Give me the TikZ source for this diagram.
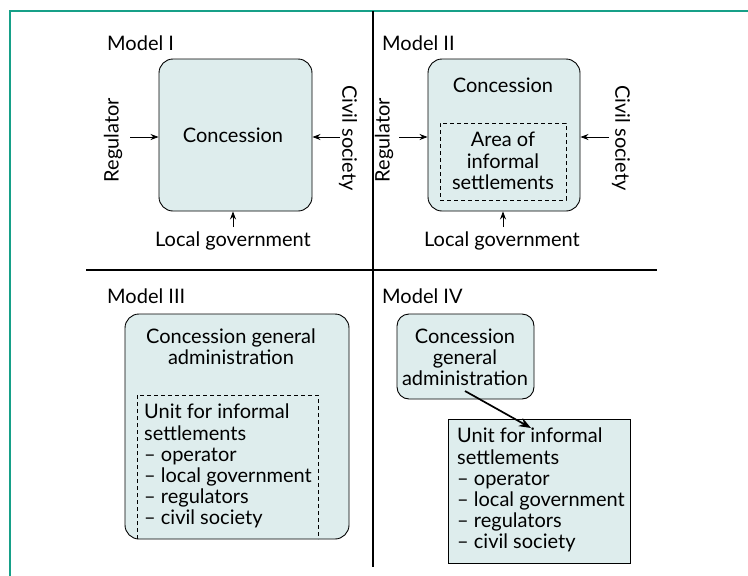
\documentclass[tikz,border=0pt]{standalone}
\usepackage{fontspec}
\setmainfont{Lato}
\usetikzlibrary{arrows.meta}
\definecolor{boxfill}{RGB}{222,237,237}
\definecolor{frameteal}{RGB}{22,160,136}
\begin{document}
\begin{tikzpicture}[x=1pt,y=-1pt,
  lbl/.style={font=\fontsize{20}{21.2}\selectfont, inner sep=0pt},
  txt/.style={font=\fontsize{20}{21.2}\selectfont, inner sep=0pt, align=center},
  rbox/.style={draw, line width=0.9pt, fill=boxfill, rounded corners=14pt},
  sbox/.style={draw, line width=0.9pt, fill=boxfill},
  dbox/.style={draw, line width=0.8pt, dashed, dash pattern=on 4pt off 3pt},
  inarrow/.style={-{Stealth[length=8pt,width=6pt]}, line width=0.8pt},
  bigarrow/.style={-{Stealth[length=12pt,width=9pt]}, line width=1.7pt},
  divider/.style={line width=1.2pt}
]
\useasboundingbox (0,0) rectangle (748,576);
\fill[white] (0,0) rectangle (748,576);
% outer frame (teal)
\draw[frameteal, line width=1.2pt] (10,576) -- (10,11) -- (748,11);
% dividers
\draw[divider] (373,11) -- (373,567);
\draw[divider] (86,270) -- (657,270);

% ---------- Model I ----------
\node[lbl, anchor=west] (m1) at (107,43) {Model I};
\node[rbox, minimum width=153pt, minimum height=152pt] (c1) at (235.5,135) {};
\node[txt] (c1t) at (233,135) {Concession};
\node[lbl, rotate=90] (reg1) at (113,140) {Regulator};
\node[lbl, rotate=-90] (civ1) at (348,138) {Civil society};
\node[lbl] (lg1) at (233,241) {Local government};
\coordinate (reg1a) at (130,137);
\coordinate (civ1a) at (340,137);
\coordinate (lg1a) at (233,227);
\draw[inarrow] (reg1a) -- (c1.west |- reg1a);
\draw[inarrow] (civ1a) -- (c1.east |- civ1a);
\draw[inarrow] (lg1a) -- (lg1a |- c1.south);

% ---------- Model II ----------
\node[lbl, anchor=west] (m2) at (382,43) {Model II};
\node[rbox, minimum width=152pt, minimum height=152pt] (c2) at (504,135) {};
\node[txt] (c2t) at (503,85) {Concession};
\node[dbox, minimum width=126pt, minimum height=77pt] (a2) at (503,161.5) {};
\node[txt] (a2t) at (503,161) {Area of\\informal\\settlements};
\node[lbl, rotate=90] (reg2) at (384,140) {Regulator};
\node[lbl, rotate=-90] (civ2) at (621,138) {Civil society};
\node[lbl] (lg2) at (502,241) {Local government};
\coordinate (reg2a) at (399,137);
\coordinate (civ2a) at (609,137);
\coordinate (lg2a) at (503,227);
\draw[inarrow] (reg2a) -- (c2.west |- reg2a);
\draw[inarrow] (civ2a) -- (c2.east |- civ2a);
\draw[inarrow] (lg2a) -- (lg2a |- c2.south);

% ---------- Model III ----------
\node[lbl, anchor=west] (m3) at (107,296) {Model III};
\node[rbox, minimum width=224pt, minimum height=225pt] (c3) at (237,426.5) {};
\node[txt] (c3t) at (231,347) {Concession general\\administration};
\draw[dbox] (137,539) -- (137,395) -- (318,395) -- (318,539);
\node[txt, align=left, anchor=north west] (u3) at (144,404)
  {Unit for informal\\settlements\\– operator\\– local government\\– regulators\\– civil society};

% ---------- Model IV ----------
\node[lbl, anchor=west] (m4) at (382,296) {Model IV};
\node[rbox, minimum width=137pt, minimum height=85pt, rounded corners=12pt] (c4) at (465.5,356.5) {};
\node[txt] (c4t) at (465,357) {Concession\\general\\administration};
\node[sbox, minimum width=182pt, minimum height=144pt] (u4) at (539,491) {};
\node[txt, align=left, anchor=north west] (u4t) at (457,428)
  {Unit for informal\\settlements\\– operator\\– local government\\– regulators\\– civil society};
\coordinate (arrs) at (465,391);
\coordinate (arre) at (531,428);
\draw[bigarrow] (arrs) -- (arre);
\end{tikzpicture}
\end{document}
